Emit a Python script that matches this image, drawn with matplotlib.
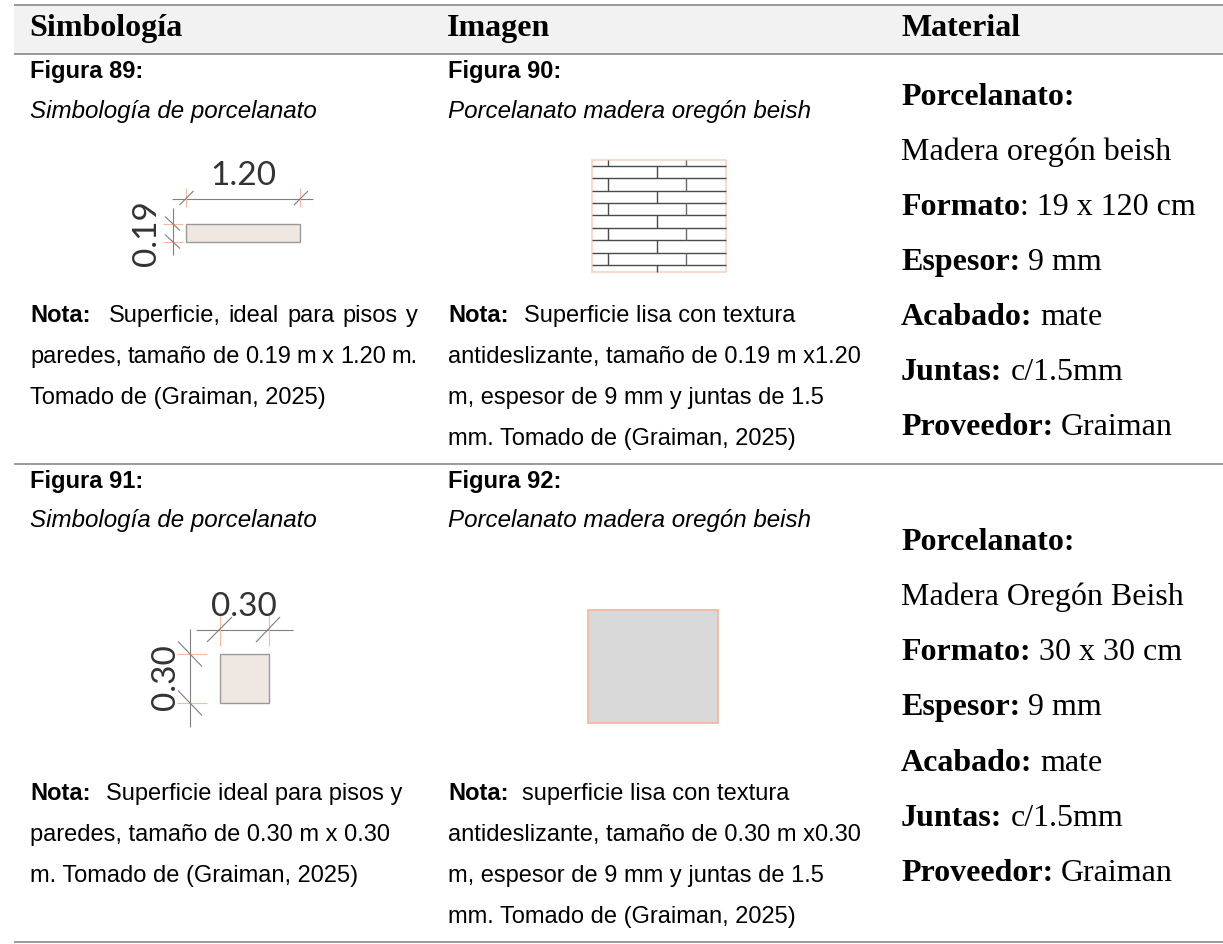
import matplotlib
matplotlib.use('Agg')
import matplotlib.pyplot as plt
from matplotlib.patches import Rectangle

headers = ['Simbología', 'Imagen', 'Material']
header_x = [29, 447, 901]

fig_titles = ['Figura 89:', 'Figura 90:', 'Figura 91:', 'Figura 92:']
fig_subs = ['Simbología de porcelanato', 'Porcelanato madera oregón beish',
            'Simbología de porcelanato', 'Porcelanato madera oregón beish']
title_pos = [(30, 78), (448, 78), (30, 488), (448, 488)]
sub_pos = [(30, 118), (448, 118), (30, 527), (448, 527)]

# notas: la primera linea va detras de "Nota:" en negrita
notas = [
    ['Superficie, ideal para pisos y', 'paredes, tamaño de 0.19 m x 1.20 m.', 'Tomado de (Graiman, 2025)'],
    ['Superficie lisa con textura', 'antideslizante, tamaño de 0.19 m x1.20', 'm, espesor de 9 mm y juntas de 1.5', 'mm. Tomado de (Graiman, 2025)'],
    ['Superficie ideal para pisos y', 'paredes, tamaño de 0.30 m x 0.30', 'm. Tomado de (Graiman, 2025)'],
    ['superficie lisa con textura', 'antideslizante, tamaño de 0.30 m x0.30', 'm, espesor de 9 mm y juntas de 1.5', 'mm. Tomado de (Graiman, 2025)'],
]
nota_pos = [(30, 322), (448, 322), (30, 800), (448, 800)]
nota_gap = [18, 15, 15, 14]
nota_step = 41
# borde derecho de las lineas justificadas de la primera nota
nota1_fin = 418

mat1 = [('Porcelanato:', ''), ('', 'Madera oregón beish'), ('Formato', ': 19 x 120 cm'),
        ('Espesor:', ' 9 mm'), ('Acabado:', ' mate'), ('Juntas:', ' c/1.5mm'), ('Proveedor:', ' Graiman')]
mat2 = [('Porcelanato:', ''), ('', 'Madera Oregón Beish'), ('Formato:', ' 30 x 30 cm'),
        ('Espesor:', ' 9 mm'), ('Acabado:', ' mate'), ('Juntas:', ' c/1.5mm'), ('Proveedor:', ' Graiman')]
mat1_y = [105, 160, 215, 270, 325, 380, 435]
mat2_y = [550, 605, 660, 715, 771, 826, 881]

hlines = [5, 54, 464, 942]

GRIS = '#7f7f7f'
NAR = '#f8b9a0'
BEIGE = '#efe7e1'
NEGRO = '#333333'

fig = plt.figure(figsize=(12.23, 9.44), dpi=100)
ax = fig.add_axes([0, 0, 1, 1])
ax.set_xlim(0, 1223)
ax.set_ylim(944, 0)
ax.axis('off')

SANS = 'Liberation Sans'
SERIF = 'Liberation Serif'
DIM = 'Lato'
rend = fig.canvas.get_renderer()


def tw(t):
    return t.get_window_extent(rend).width


def linea(xs, ys, color=GRIS, lw=0.8):
    ax.plot(xs, ys, color=color, lw=lw, solid_capstyle='butt')


def justificado(x, fin, y, txt):
    # palabra por palabra, para repartir el espacio hasta el borde derecho
    ts = [ax.text(x, y, p, family=SANS, fontsize=17, va='baseline', color='black') for p in txt.split()]
    anchos = [tw(t) for t in ts]
    hueco = (fin - x - sum(anchos)) / (len(ts) - 1)
    for t, w in zip(ts, anchos):
        t.set_x(x)
        x += w + hueco


ax.add_patch(Rectangle((14, 5), 1209, 49, fc='#f2f2f2', ec='none'))
for y in hlines:
    linea([14, 1223], [y, y], color='#7f7f7f', lw=1.1)

for h, x in zip(headers, header_x):
    ax.text(x, 36, h, family=SERIF, weight='bold', fontsize=23, va='baseline', color='black')

for t, p in zip(fig_titles, title_pos):
    ax.text(p[0], p[1], t, family=SANS, weight='bold', fontsize=17, va='baseline', color='black')
for t, p in zip(fig_subs, sub_pos):
    ax.text(p[0], p[1], t, family=SANS, style='italic', fontsize=17.35, va='baseline', color='black')

for n, (lineas, p) in enumerate(zip(notas, nota_pos)):
    b = ax.text(p[0], p[1], 'Nota:', family=SANS, weight='bold', fontsize=17, va='baseline', color='black')
    x0 = p[0] + tw(b) + nota_gap[n]
    if n == 0:
        justificado(x0, nota1_fin, p[1], lineas[0])
        justificado(p[0], nota1_fin, p[1] + nota_step, lineas[1])
        resto = [(2, lineas[2])]
    else:
        ax.text(x0, p[1], lineas[0], family=SANS, fontsize=17, va='baseline', color='black')
        resto = list(enumerate(lineas))[1:]
    for i, l in resto:
        ax.text(p[0], p[1] + nota_step * i, l, family=SANS, fontsize=17, va='baseline', color='black')

for mat, ys in zip([mat1, mat2], [mat1_y, mat2_y]):
    for (neg, nor), y in zip(mat, ys):
        x = 901
        if neg:
            t = ax.text(x, y, neg, family=SERIF, weight='bold', fontsize=23, va='baseline', color='black')
            x += tw(t)
        if nor:
            if nor.startswith(' '):
                x += 8
            ax.text(x, y, nor.strip(), family=SERIF, fontsize=23, va='baseline', color='black')

# simbolo 1.20 x 0.19
ax.add_patch(Rectangle((185.5, 223.5), 114.5, 18, fc=BEIGE, ec='#9a9a9a', lw=1))
linea([172, 313], [198.5, 198.5])
linea([173, 173], [208, 255])
for x in [185.5, 300]:
    linea([x, x], [188, 207], NAR)
    linea([x - 6, x + 8], [205, 191], GRIS, 0.8)
for y in [223.5, 241.5]:
    linea([163, 183], [y, y], NAR)
    linea([165, 180], [y - 7, y + 7], GRIS, 0.8)
ax.text(243, 185, '1.20', family=DIM, fontsize=24, va='baseline', ha='center', color=NEGRO)
ax.text(147, 233.5, '0.19', family=DIM, fontsize=24, rotation=90, va='center', ha='center', color=NEGRO)

# imagen 90: despiece
ax.add_patch(Rectangle((592, 160), 134, 112, fc='white', ec='#fbd3c2', lw=1.2))
filas = [165.5, 178, 190.5, 203, 215, 227.5, 240, 252.5, 265, 272]
for y in filas[:-1]:
    linea([592, 726], [y, y], '#4a4a4a', 1.0)
for i in range(len(filas)):
    y1 = 160 if i == 0 else filas[i - 1]
    y2 = filas[i]
    if i % 2 == 0:
        linea([608, 608], [y1, y2], '#4a4a4a', 1.0)
        linea([686, 686], [y1, y2], '#6a6a6a', 1.0)
    else:
        linea([657, 657], [y1, y2], '#4a4a4a', 1.0)

# simbolo 0.30 x 0.30
ax.add_patch(Rectangle((219.5, 653.5), 49, 49, fc=BEIGE, ec='#9a9a9a', lw=1))
linea([196, 293], [630, 630])
linea([189.5, 189.5], [629, 727])
for x in [219.5, 268.5]:
    linea([x, x], [615, 646], NAR)
for x0, x1 in [(207, 232), (256, 280)]:
    linea([x0, x1], [642, 617], GRIS, 0.8)
for y in [653.5, 702.5]:
    linea([177, 207], [y, y], NAR)
    linea([178, 202], [y - 12, y + 13], GRIS, 0.8)
ax.text(243.5, 616, '0.30', family=DIM, fontsize=24, va='baseline', ha='center', color=NEGRO)
ax.text(165.5, 677.5, '0.30', family=DIM, fontsize=24, rotation=90, va='center', ha='center', color=NEGRO)

# imagen 92
ax.add_patch(Rectangle((588, 610), 130, 112.5, fc='#d9d9d9', ec='#f6b49a', lw=1.2))

fig.savefig('out.png', dpi=100)
